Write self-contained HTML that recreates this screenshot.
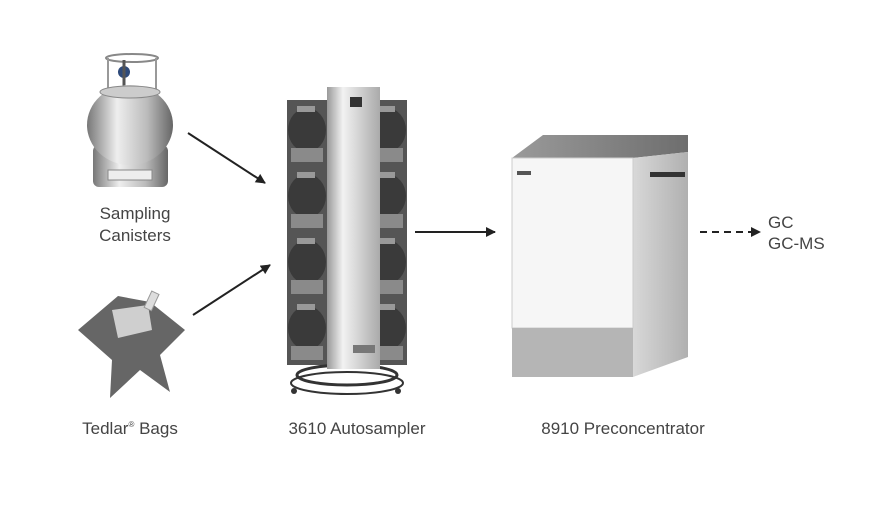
<!DOCTYPE html>
<html><head><style>
html,body{margin:0;padding:0;background:#fff;}
svg{display:block;}
text{font-family:"Liberation Sans",sans-serif;fill:#444;font-size:17px;}
</style></head><body>
<svg width="871" height="507" viewBox="0 0 871 507" xmlns="http://www.w3.org/2000/svg">
<defs>
<linearGradient id="met" x1="0" x2="1"><stop offset="0" stop-color="#777"/><stop offset="0.35" stop-color="#eee"/><stop offset="0.7" stop-color="#bbb"/><stop offset="1" stop-color="#666"/></linearGradient>
<linearGradient id="col" x1="0" x2="1"><stop offset="0" stop-color="#999"/><stop offset="0.3" stop-color="#f2f2f2"/><stop offset="1" stop-color="#aaa"/></linearGradient>
<linearGradient id="top" x1="0" x2="1"><stop offset="0" stop-color="#9a9a9a"/><stop offset="1" stop-color="#6e6e6e"/></linearGradient>
<linearGradient id="side" x1="0" x2="1"><stop offset="0" stop-color="#d8d8d8"/><stop offset="1" stop-color="#b0b0b0"/></linearGradient>
<marker id="ah" markerWidth="10" markerHeight="10" refX="9" refY="5" orient="auto" markerUnits="userSpaceOnUse"><path d="M0,0 L10,5 L0,10 Z" fill="#222"/></marker>
<pattern id="can" width="40" height="66" patternUnits="userSpaceOnUse" x="287" y="100"><rect width="40" height="66" fill="#555"/><ellipse cx="20" cy="30" rx="19" ry="22" fill="#3a3a3a"/><rect x="4" y="48" width="32" height="14" fill="#8a8a8a"/><rect x="10" y="6" width="18" height="6" fill="#999"/></pattern>
</defs>
<!-- canister -->
<ellipse cx="132" cy="58" rx="26" ry="4" fill="none" stroke="#888" stroke-width="2"/>
<line x1="108" y1="58" x2="108" y2="92" stroke="#999" stroke-width="2"/>
<line x1="156" y1="58" x2="156" y2="92" stroke="#999" stroke-width="2"/>
<circle cx="124" cy="72" r="6" fill="#2e4a7a"/>
<line x1="124" y1="60" x2="124" y2="90" stroke="#555" stroke-width="3"/>
<rect x="93" y="145" width="75" height="42" rx="6" fill="url(#met)"/>
<rect x="108" y="170" width="44" height="10" fill="#eee" stroke="#888"/>
<ellipse cx="130" cy="125" rx="43" ry="40" fill="url(#met)"/>
<ellipse cx="130" cy="92" rx="30" ry="6" fill="#ccc" stroke="#888"/>
<text x="135" y="219" text-anchor="middle">Sampling</text>
<text x="135" y="241" text-anchor="middle">Canisters</text>
<!-- bag -->
<path d="M78,330 L118,296 L150,302 L185,330 L160,355 L170,392 L140,370 L110,398 L112,360 Z" fill="#666"/>
<path d="M112,310 L148,305 L152,330 L118,338 Z" fill="#cfcfcf"/>
<rect x="148" y="292" width="8" height="18" fill="#ddd" stroke="#999" transform="rotate(25 152 300)"/>
<text x="130" y="434" text-anchor="middle">Tedlar<tspan font-size="8" dy="-7">®</tspan><tspan dy="7"> Bags</tspan></text>
<!-- arrows -->
<line x1="188" y1="133" x2="265" y2="183" stroke="#222" stroke-width="2" marker-end="url(#ah)"/>
<line x1="193" y1="315" x2="270" y2="265" stroke="#222" stroke-width="2" marker-end="url(#ah)"/>
<line x1="415" y1="232" x2="495" y2="232" stroke="#222" stroke-width="2" marker-end="url(#ah)"/>
<line x1="700" y1="232" x2="760" y2="232" stroke="#222" stroke-width="2" stroke-dasharray="7,5" marker-end="url(#ah)"/>
<text x="768" y="228">GC</text>
<text x="768" y="249">GC-MS</text>
<!-- autosampler -->
<rect x="287" y="100" width="120" height="265" fill="url(#can)"/>
<ellipse cx="347" cy="375" rx="50" ry="10" fill="none" stroke="#333" stroke-width="3"/>
<ellipse cx="347" cy="383" rx="56" ry="11" fill="none" stroke="#333" stroke-width="2"/>
<circle cx="294" cy="391" r="3" fill="#333"/><circle cx="398" cy="391" r="3" fill="#333"/>
<rect x="327" y="87" width="53" height="282" fill="url(#col)"/>
<rect x="350" y="97" width="12" height="10" fill="#333"/>
<rect x="353" y="345" width="22" height="8" fill="#777"/>
<text x="357" y="434" text-anchor="middle">3610 Autosampler</text>
<!-- preconcentrator -->
<polygon points="512,158 543,135 688,135 688,152 633,158" fill="url(#top)"/>
<polygon points="633,158 688,152 688,357 633,377" fill="url(#side)"/>
<rect x="650" y="172" width="35" height="5" fill="#333"/>
<rect x="512" y="158" width="121" height="170" fill="#f6f6f6" stroke="#ccc" stroke-width="1"/>
<rect x="512" y="328" width="121" height="49" fill="#b5b5b5"/>
<rect x="517" y="171" width="14" height="4" fill="#555"/>
<text x="623" y="434" text-anchor="middle">8910 Preconcentrator</text>
</svg>
</body></html>
